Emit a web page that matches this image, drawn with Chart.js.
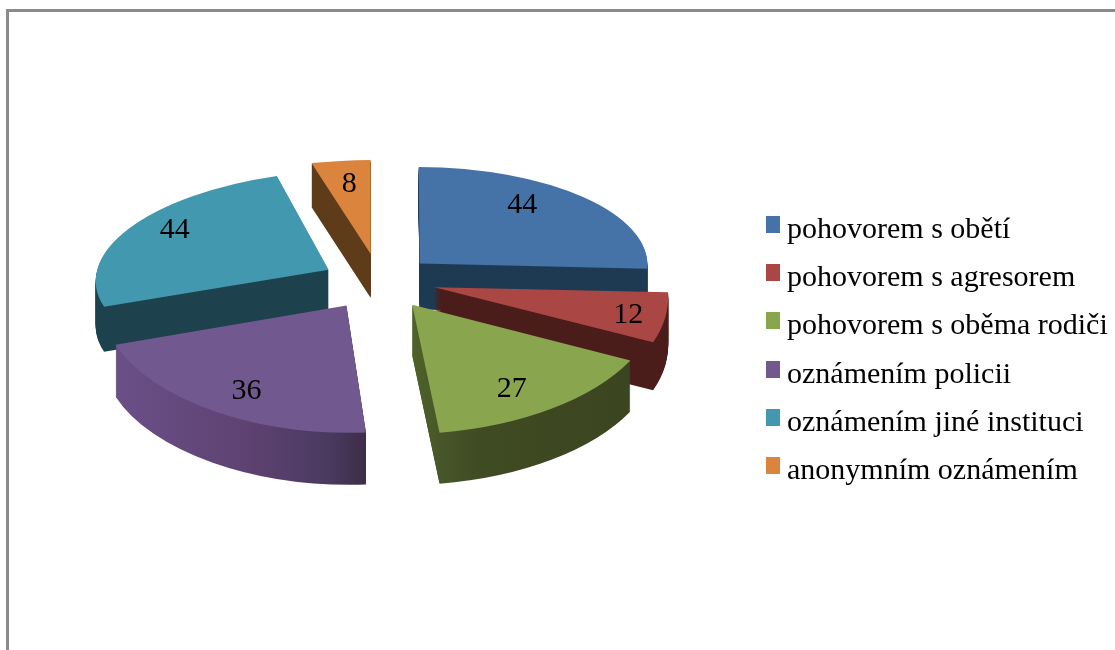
<!DOCTYPE html>
<html>
<head>
<meta charset="utf-8">
<script src="https://cdn.jsdelivr.net/npm/chart.js@4"></script>
<style>
html,body{margin:0;padding:0;background:#fff;overflow:hidden}
#frame{position:absolute;left:6px;top:9px;width:1200px;height:800px;border-left:3px solid #8b8b8b;border-top:3px solid #8b8b8b}
canvas{position:absolute;left:0;top:0}
</style>
</head>
<body>
<div id="frame"></div>
<canvas id="c" width="1115" height="650"></canvas>
<script>
const categories = ['pohovorem s obětí','pohovorem s agresorem','pohovorem s oběma rodiči','oznámením policii','oznámením jiné instituci','anonymním oznámením'];
const values = [44,12,27,36,44,8];
const sliceColors = ['#4572A7','#AA4643','#89A54E','#71588F','#4198AF','#DB843D'];

// 3D view styling
const RADIUS = 230, CX = 379, CY = 280;
const explode = [57,55,55,56,58,64];
const planeMatrix = [
  [.99,.004,.003,.42],
  [1.012,.105,-.0165,.5656],
  [1.069,.014,-.027,.561],
  [1.061,-.011,.016,.553],
  [1.01,-.071,-.019,.431],
  [1.1225,-.035,.003,.409]
];
const wallDepth = [46,48,51,52,45,44];
const wallOrder = [0,5,4,1,3,2];
const wallShade = [
  [[400,'#1E3A52'],[660,'#1E3A52']],
  [[430,'#4A1D1B'],[680,'#4A1D1B']],
  [[414,'#4F6128'],[440,'#46552A'],[480,'#3F4B22'],[635,'#3B4420']],
  [[115,'#6A5088'],[250,'#5E4272'],[330,'#4B3A60'],[368,'#3D2E48']],
  [[95,'#1E424D'],[330,'#1E424D']],
  [[310,'#5E3C1A'],[375,'#5E3C1A']]
];
const labelNudge = [[-4,-15],[44,8],[9,17],[-13,17],[-24,-13],[-2,-9]];
const LEGEND = {x:766,y:216,step:48.2,boxW:14,boxH:17,textX:787,baseline:22,font:'30px "Liberation Serif"'};
const LABEL_FONT = '30px "Liberation Serif"';

const total = values.reduce((a,b)=>a+b,0);
const fix = values.map(v=>1-Math.sin(Math.min(Math.PI,v/total*2*Math.PI)));
const realOffset = explode.map((e,i)=>e/(1-e*fix[i]/RADIUS));
const shrink = realOffset.map((o,i)=>RADIUS/(RADIUS+o*fix[i]));

function applyPlane(ctx,el,i,dy){
  const m = planeMatrix[i], s = shrink[i];
  ctx.translate(CX,CY+dy);
  ctx.transform(m[0]*s,m[2]*s,m[1]*s,m[3]*s,0,0);
  ctx.translate(-el.x,-el.y);
}
const pie3d = {
  id:'pie3d',
  beforeDatasetDraw(chart){
    const ctx = chart.ctx, els = chart.getDatasetMeta(0).data;
    wallOrder.forEach(i=>{
      const el = els[i], m = planeMatrix[i], s = shrink[i], stops = wallShade[i];
      const h = (el.startAngle+el.endAngle)/2;
      const toLocal = x => el.x+(x-CX)/(m[0]*s)-realOffset[i]*Math.cos(h);
      const x0 = stops[0][0], x1 = stops[stops.length-1][0];
      const g = ctx.createLinearGradient(toLocal(x0),0,toLocal(x1),0);
      stops.forEach(st=>g.addColorStop((st[0]-x0)/(x1-x0),st[1]));
      const o = el.options;
      el.options = Object.assign(Object.create(o),{backgroundColor:g});
      for(let d=wallDepth[i];d>=1;d--){
        ctx.save();applyPlane(ctx,el,i,d);el.draw(ctx);ctx.restore();
      }
      el.options = o;
    });
    els.forEach((el,i)=>{ctx.save();applyPlane(ctx,el,i,0);el.draw(ctx);ctx.restore();});
    return false;
  },
  afterDatasetsDraw(chart){
    const ctx = chart.ctx, els = chart.getDatasetMeta(0).data;
    ctx.save();
    ctx.fillStyle='#000';ctx.textAlign='center';ctx.textBaseline='middle';ctx.font=LABEL_FONT;
    els.forEach((el,i)=>{
      const h=(el.startAngle+el.endAngle)/2, m=planeMatrix[i], dx=Math.cos(h), dy=Math.sin(h);
      const r=explode[i]+.65*RADIUS;
      const x=CX+(m[0]*dx+m[1]*dy)*r+labelNudge[i][0];
      const y=CY+(m[2]*dx+m[3]*dy)*r+labelNudge[i][1];
      ctx.fillText(String(values[i]),x,y);
    });
    ctx.textAlign='left';ctx.textBaseline='alphabetic';ctx.font=LEGEND.font;
    categories.forEach((c,i)=>{
      const y=Math.round(LEGEND.y+i*LEGEND.step);
      ctx.fillStyle=sliceColors[i];
      ctx.fillRect(LEGEND.x,y,LEGEND.boxW,LEGEND.boxH);
      ctx.fillStyle='#000';
      ctx.fillText(c,LEGEND.textX,y+LEGEND.baseline);
    });
    ctx.restore();
  }
};
new Chart(document.getElementById('c'),{
  type:'pie',
  data:{labels:categories,datasets:[{
    data:values,
    backgroundColor:sliceColors,
    borderWidth:0,
    offset:realOffset.map(o=>o*4),
    radius:RADIUS,
    clip:false
  }]},
  options:{
    responsive:false,animation:false,events:[],
    plugins:{legend:{display:false},tooltip:{enabled:false}}
  },
  plugins:[pie3d]
});
</script>
</body>
</html>
